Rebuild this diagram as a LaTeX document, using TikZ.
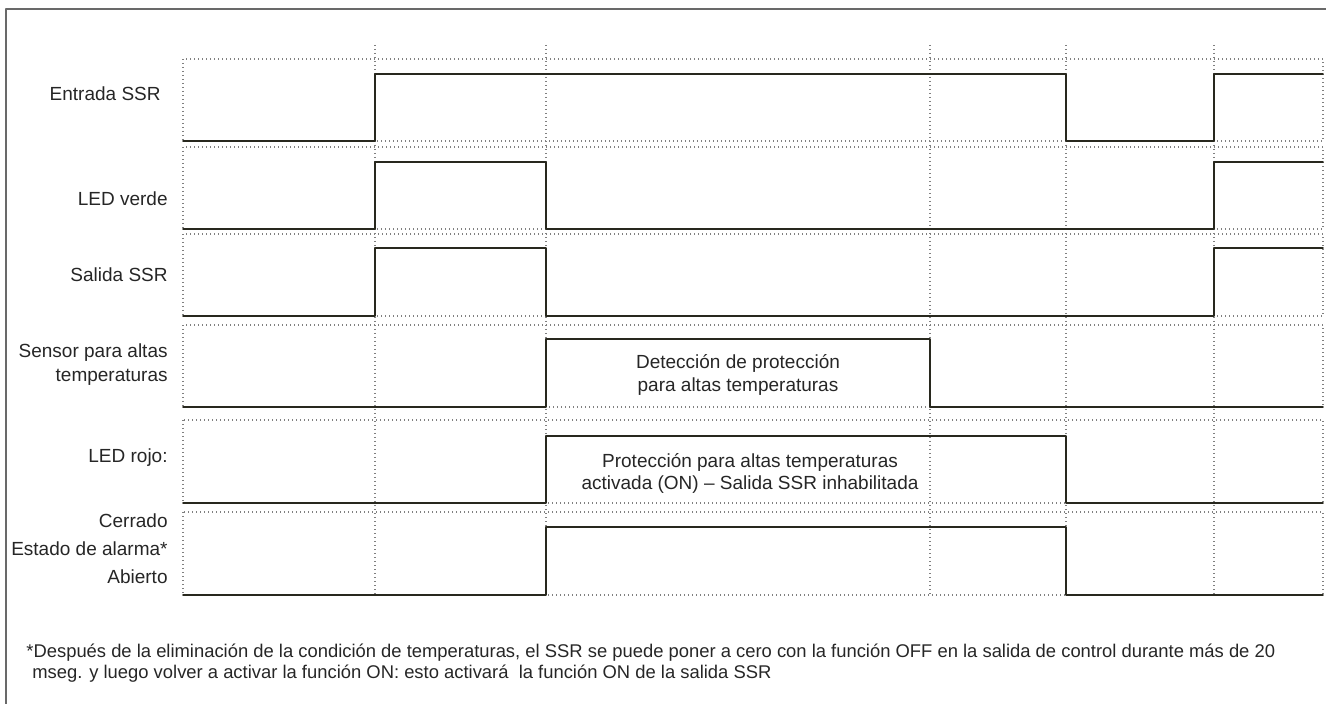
\documentclass[tikz,border=0pt]{standalone}
\usepackage{fontspec}
\setmainfont{Liberation Sans}
\definecolor{sig}{RGB}{40,40,30}
\definecolor{frame}{RGB}{105,105,105}
\begin{document}
\begin{tikzpicture}[x=0.5pt,y=-0.5pt,line join=round,line cap=round,
		font=\fontsize{9.5}{11.5}\selectfont,
		grid/.style={gray,line width=0.55pt,line cap=butt,dash pattern=on 0.5pt off 1.5pt},
		signal/.style={sig,line width=0.8pt},
		lbl/.style={anchor=base east,inner sep=0pt,text=black!85},
		note/.style={anchor=base,inner sep=0pt,text=black!85},
		foot/.style={anchor=base west,inner sep=0pt,text=black!85,font=\fontsize{9.2}{11.5}\selectfont}]
	\useasboundingbox (0,0) rectangle (1326,704);
	% frame
	\draw[frame,line width=0.9pt,line cap=butt] (6,704) -- (6,9) -- (1326,9);
	% lanes
	\draw[grid] (183,59) rectangle (1323,141);
	\draw[grid] (183,147) rectangle (1323,229);
	\draw[grid] (183,234) rectangle (1323,316);
	\draw[grid] (183,325) rectangle (1323,407);
	\draw[grid] (183,420) rectangle (1323,503);
	\draw[grid] (183,512) rectangle (1323,595);
	\foreach \x in {375,546,930,1066,1214}
		\draw[grid] (\x,45) -- (\x,595);
	% signals
	\draw[signal] (183,141) -- (375,141) -- (375,74) -- (1066,74) -- (1066,141) -- (1214,141) -- (1214,74) -- (1323,74);
	\draw[signal] (183,229) -- (375,229) -- (375,162) -- (546,162) -- (546,229) -- (1214,229) -- (1214,162) -- (1323,162);
	\draw[signal] (183,316) -- (375,316) -- (375,248) -- (546,248) -- (546,316) -- (1214,316) -- (1214,248) -- (1323,248);
	\draw[signal] (183,407) -- (546,407) -- (546,339) -- (930,339) -- (930,407) -- (1323,407);
	\draw[signal] (183,503) -- (546,503) -- (546,436) -- (1066,436) -- (1066,503) -- (1323,503);
	\draw[signal] (183,595) -- (546,595) -- (546,527) -- (1066,527) -- (1066,595) -- (1323,595);
	% labels
	\node[lbl] (entrada) at (161,101) {Entrada SSR};
	\node[lbl] (verde) at (168,206) {LED verde};
	\node[lbl] (salida) at (168,282) {Salida SSR};
	\node[lbl] (sensorA) at (168,358) {Sensor para altas};
	\node[lbl] (sensorB) at (168,382) {temperaturas};
	\node[lbl] (rojo) at (168,463) {LED rojo:};
	\node[lbl] (cerrado) at (168,528) {Cerrado};
	\node[lbl] (estado) at (168,555) {Estado de alarma*};
	\node[lbl] (abierto) at (168,583) {Abierto};
	% notes inside the waveforms
	\node[note] (detA) at (738,369) {Detección de protección};
	\node[note] (detB) at (738,392) {para altas temperaturas};
	\node[note] (protA) at (750,468) {Protección para altas temperaturas};
	\node[note] (protB) at (750,490) {activada (ON) – Salida SSR inhabilitada};
	% footnote
	\node[foot] (pie1) at (26,657) {*Después de la eliminación de la condición de temperaturas, el SSR se puede poner a cero con la función OFF en la salida de control durante más de 20};
	\node[foot] (pie2) at (32,678) {mseg. y luego volver a activar la función ON: esto activará\ \ la función ON de la salida SSR};
\end{tikzpicture}
\end{document}
